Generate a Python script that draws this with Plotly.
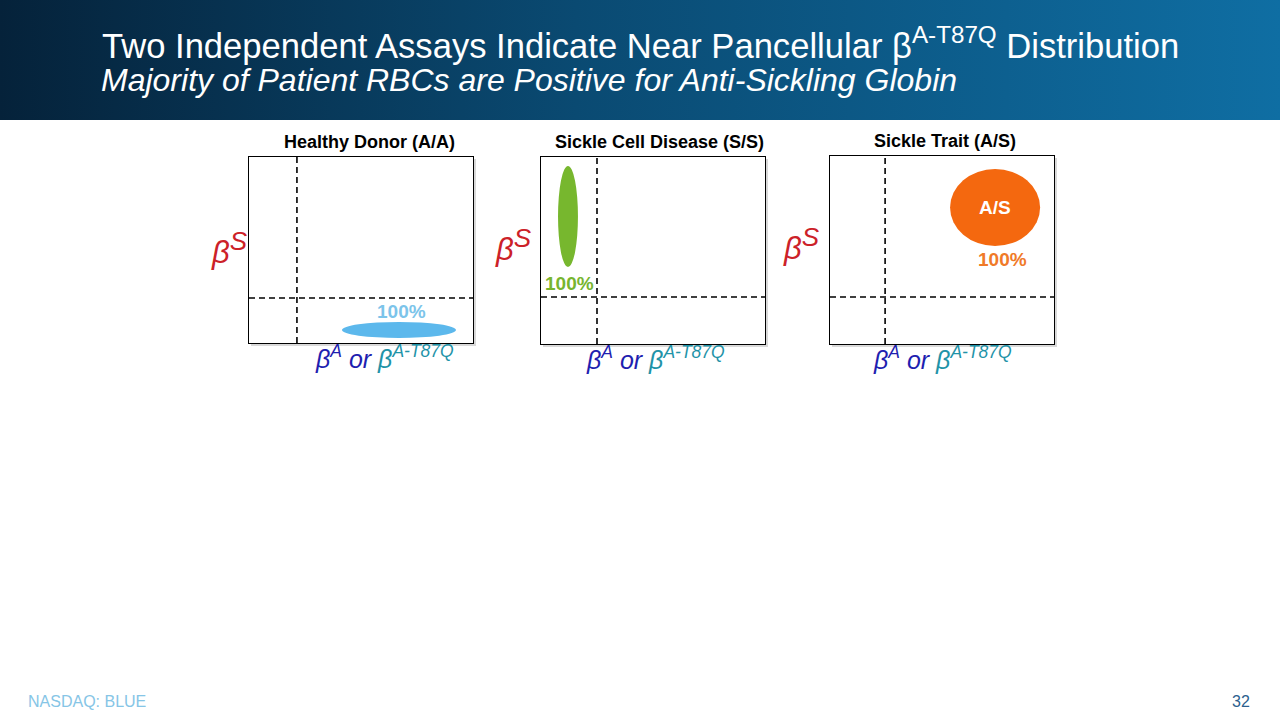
import plotly.graph_objects as go

W, H = 1280, 720

# ---------------- data ----------------
panel_titles = ["Healthy Donor (A/A)", "Sickle Cell Disease (S/S)", "Sickle Trait (A/S)"]
gate_x = [21.4, 25.0, 24.6]          # vertical gate position (axis units 0-100)
gate_y = [24.2, 25.1, 25.0]          # horizontal gate position
pop_x0 = [41.5, 7.6, 53.6]
pop_x1 = [92.4, 16.5, 93.8]
pop_y0 = [2.7, 41.2, 52.1]
pop_y1 = [11.3, 95.2, 93.1]
pop_pct = ["100%", "100%", "100%"]
pct_x = [67.9, 12.9, 76.8]
pct_y = [16.7, 32.6, 44.7]
pop_label = ["", "", "A/S"]
pop_colors = ["#5cb8ec", "#77b72e", "#f4680f"]
pct_colors = ["#7cc4ea", "#77b52f", "#f07a28"]

# panel boxes in pixels (left, right, top, bottom)
boxes = [(249, 473, 157, 343), (541, 765, 157, 344), (830, 1054, 156, 344)]
# label placement (domain fractions)
ylab_x = [-0.089, -0.125, -0.129]
ylab_y = [0.51, 0.53, 0.53]
xlab_x = [0.603, 0.513, 0.5]
title_x = [0.536, 0.531, 0.513]

title = "Two Independent Assays Indicate Near Pancellular β<sup>A-T87Q</sup> Distribution"
subtitle = "<i>Majority of Patient RBCs are Positive for Anti-Sickling Globin</i>"

fig = go.Figure()
layout = dict(width=W, height=H, margin=dict(l=0, r=0, t=0, b=0),
              paper_bgcolor="white", plot_bgcolor="white", showlegend=False)
shapes = []
annotations = []

FONT = "Liberation Sans, Arial, sans-serif"

for i, (l, r, t, b) in enumerate(boxes):
    n = i + 1
    xa = "xaxis" if n == 1 else f"xaxis{n}"
    ya = "yaxis" if n == 1 else f"yaxis{n}"
    xr = "x" if n == 1 else f"x{n}"
    yr = "y" if n == 1 else f"y{n}"
    hgt = b - t
    layout[xa] = dict(domain=[l / W, r / W], range=[0, 100], showline=True, mirror=True,
                      linecolor="black", linewidth=1.3, showgrid=False, zeroline=False,
                      showticklabels=False, ticks="", fixedrange=True, anchor=yr)
    layout[ya] = dict(domain=[1 - b / H, 1 - t / H], range=[0, 100], showline=True, mirror=True,
                      linecolor="black", linewidth=1.3, showgrid=False, zeroline=False,
                      showticklabels=False, ticks="", fixedrange=True, anchor=xr)
    fig.add_trace(go.Scatter(x=[0, 100], y=[0, 100], xaxis=xr, yaxis=yr, mode="markers",
                             marker=dict(opacity=0), hoverinfo="skip"))
    # drop shadow
    shapes.append(dict(type="rect", xref="paper", yref="paper", layer="below",
                       x0=(l + 2) / W, x1=(r + 3) / W, y0=1 - (b + 3) / H, y1=1 - (t + 2) / H,
                       fillcolor="#d9d9d9", line=dict(width=0)))
    shapes.append(dict(type="rect", xref="paper", yref="paper", layer="below",
                       x0=l / W, x1=r / W, y0=1 - b / H, y1=1 - t / H,
                       fillcolor="white", line=dict(width=0)))
    # gates
    shapes.append(dict(type="line", xref=xr, yref=yr, x0=gate_x[i], x1=gate_x[i], y0=0, y1=100,
                       line=dict(color="black", width=1.6, dash="6px,4px")))
    shapes.append(dict(type="line", xref=xr, yref=yr, x0=0, x1=100, y0=gate_y[i], y1=gate_y[i],
                       line=dict(color="black", width=1.6, dash="6px,4px")))
    # population
    shapes.append(dict(type="circle", xref=xr, yref=yr, x0=pop_x0[i], x1=pop_x1[i],
                       y0=pop_y0[i], y1=pop_y1[i], fillcolor=pop_colors[i], line=dict(width=0)))
    if pop_label[i]:
        annotations.append(dict(x=(pop_x0[i] + pop_x1[i]) / 2, y=(pop_y0[i] + pop_y1[i]) / 2,
                                xref=xr, yref=yr, text=f"<b>{pop_label[i]}</b>", showarrow=False,
                                xanchor="center", yanchor="middle",
                                font=dict(family=FONT, size=19, color="white")))
    annotations.append(dict(x=pct_x[i], y=pct_y[i], xref=xr, yref=yr, text=f"<b>{pop_pct[i]}</b>",
                            showarrow=False, xanchor="center", yanchor="middle",
                            font=dict(family=FONT, size=19, color=pct_colors[i])))
    # panel title
    annotations.append(dict(x=title_x[i], y=1 + 15 / hgt, xref=f"{xr} domain", yref=f"{yr} domain",
                            text=f"<b>{panel_titles[i]}</b>", showarrow=False,
                            xanchor="center", yanchor="middle",
                            font=dict(family=FONT, size=18, color="black")))
    # y label
    annotations.append(dict(x=ylab_x[i], y=ylab_y[i], xref=f"{xr} domain", yref=f"{yr} domain",
                            text="<i>β<sup><span style='font-size:26px'>S</span></sup></i>",
                            showarrow=False, xanchor="center", yanchor="middle",
                            font=dict(family=FONT, size=31, color="#cc2128")))
    # x label
    annotations.append(dict(x=xlab_x[i], y=-14 / hgt, xref=f"{xr} domain", yref=f"{yr} domain",
                            text="<i><span style='color:#1f1fb0'>β<sup>A</sup> or </span>"
                                 "<span style='color:#1f93a8'>β<sup>A-T87Q</sup></span></i>",
                            showarrow=False, xanchor="center", yanchor="middle",
                            font=dict(family=FONT, size=25, color="#1f1fb0")))

# header band with horizontal gradient
layout["xaxis4"] = dict(domain=[0, 1], range=[0, 1], visible=False, fixedrange=True, anchor="y4")
layout["yaxis4"] = dict(domain=[1 - 120 / H, 1], range=[0, 1], visible=False, fixedrange=True, anchor="x4")
fig.add_trace(go.Scatter(x=[0, 1, 1, 0, 0], y=[0, 0, 1, 1, 0], xaxis="x4", yaxis="y4",
                         mode="lines", line=dict(width=0), fill="toself",
                         fillgradient=dict(type="horizontal",
                                           colorscale=[[0, "#05223a"], [0.45, "#0a4a72"], [1, "#0f6ea3"]]),
                         hoverinfo="skip"))

annotations.append(dict(x=100 / W, y=1 - 43 / H, xref="paper", yref="paper", xanchor="left",
                        yanchor="middle", text=title, showarrow=False,
                        font=dict(family=FONT, size=34.6, color="white")))
annotations.append(dict(x=99 / W, y=1 - 80 / H, xref="paper", yref="paper", xanchor="left",
                        yanchor="middle", text=subtitle, showarrow=False,
                        font=dict(family=FONT, size=32, color="white")))
annotations.append(dict(x=26 / W, y=1 - 701 / H, xref="paper", yref="paper", xanchor="left",
                        yanchor="middle", text="NASDAQ: BLUE", showarrow=False,
                        font=dict(family=FONT, size=16, color="#86c5e6")))
annotations.append(dict(x=1252 / W, y=1 - 701 / H, xref="paper", yref="paper", xanchor="right",
                        yanchor="middle", text="32", showarrow=False,
                        font=dict(family=FONT, size=16, color="#2b5f8e")))

layout["shapes"] = shapes
layout["annotations"] = annotations
fig.update_layout(**layout)
fig.write_html("out.html", config={"displayModeBar": False},
               post_script="document.body.style.margin='0';document.body.style.overflow='hidden';")
